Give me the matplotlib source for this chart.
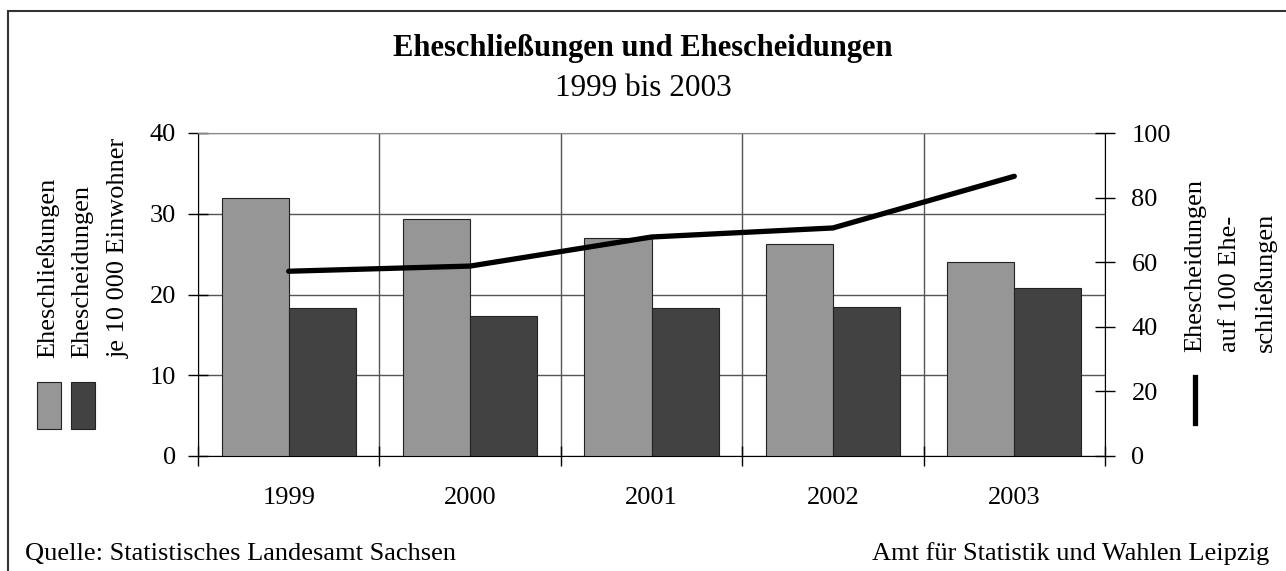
import numpy as np
import matplotlib.pyplot as plt
from matplotlib.patches import Rectangle
from matplotlib.lines import Line2D

plt.rcParams['font.family'] = ['Liberation Serif', 'DejaVu Serif']

# Daten
jahre = ['1999', '2000', '2001', '2002', '2003']
eheschliessungen = [32.0, 29.4, 27.0, 26.3, 24.0]     # je 10 000 Einwohner
ehescheidungen = [18.3, 17.3, 18.3, 18.5, 20.8]       # je 10 000 Einwohner
scheidungen_je_100 = [57.2, 58.8, 67.8, 70.6, 86.6]   # auf 100 Eheschliessungen

hell = '#969696'
dunkel = '#424242'
gitter = '#555555'

fig = plt.figure(figsize=(12.86, 5.71), dpi=100)
ax = fig.add_axes([198 / 1286, 115 / 571, 907 / 1286, 323 / 571])

x = np.arange(len(jahre))
breite = 0.37
ax.bar(x - breite / 2, eheschliessungen, breite, color=hell, edgecolor='#222222', linewidth=0.8, zorder=3)
ax.bar(x + breite / 2, ehescheidungen, breite, color=dunkel, edgecolor='#222222', linewidth=0.8, zorder=3)

ax.set_xlim(-0.5, len(jahre) - 0.5)
ax.set_ylim(0, 40)
ax.set_yticks([0, 10, 20, 30, 40])
ax.set_xticks(x)
ax.set_xticklabels(jahre)
ax.set_xticks(np.arange(-0.5, len(jahre)), minor=True)
ax.tick_params(axis='x', which='major', length=0, pad=22, labelsize=19)
ax.tick_params(axis='x', which='minor', direction='inout', length=14, width=1)
ax.tick_params(axis='y', direction='inout', length=14, width=1, labelsize=19, pad=9)
ax.grid(axis='y', color=gitter, linewidth=1, zorder=0)
ax.grid(axis='x', which='minor', color=gitter, linewidth=1, zorder=0)
ax.spines['top'].set_color('#888888')
ax.spines['left'].set_color('black')
ax.spines['bottom'].set_color('black')
ax.spines['right'].set_visible(False)

ax2 = ax.twinx()
ax2.plot(x, scheidungen_je_100, color='black', linewidth=3.8, solid_capstyle='round', solid_joinstyle='miter', zorder=5)
ax2.set_ylim(0, 100)
ax2.set_yticks([0, 20, 40, 60, 80, 100])
ax2.tick_params(axis='y', direction='inout', length=14, width=1, labelsize=19, pad=12)
for s in ['top', 'left', 'bottom']:
    ax2.spines[s].set_visible(False)
ax2.spines['right'].set_color('black')

# Titel
fig.text(0.5, 1 - 56 / 571, 'Eheschließungen und Ehescheidungen', ha='center', va='baseline',
         fontsize=22, fontweight='bold')
fig.text(0.5, 1 - 96 / 571, '1999 bis 2003', ha='center', va='baseline', fontsize=22.5)

# Legende links
for xp, txt in [(48, 'Eheschließungen'), (82, 'Ehescheidungen'), (119, 'je 10 000 Einwohner')]:
    fig.text(xp / 1286, 1 - 358 / 571, txt, rotation=90, ha='center', va='bottom', fontsize=19)
for xp, farbe in [(37, hell), (71, dunkel)]:
    fig.patches.append(Rectangle((xp / 1286, 1 - 429 / 571), 24 / 1286, 47 / 571,
                                 facecolor=farbe, edgecolor='#222222', linewidth=0.8,
                                 transform=fig.transFigure))

# Legende rechts
for xp, txt in [(1195, 'Ehescheidungen'), (1230, 'auf 100 Ehe-'), (1265, 'schließungen')]:
    fig.text(xp / 1286, 1 - 352 / 571, txt, rotation=90, ha='center', va='bottom', fontsize=19)
fig.lines.append(Line2D([1195 / 1286, 1195 / 1286], [1 - 377 / 571, 1 - 423 / 571],
                        color='black', linewidth=3.8, transform=fig.transFigure))

# Quellen
fig.text(25 / 1286, 1 - 560 / 571, 'Quelle: Statistisches Landesamt Sachsen', ha='left', va='baseline', fontsize=19)
fig.text(1269 / 1286, 1 - 560 / 571, 'Amt für Statistik und Wahlen Leipzig', ha='right', va='baseline', fontsize=19)

# Rahmen
fig.patches.append(Rectangle((8 / 1286, -0.1), 1.2, 1 - 11 / 571 + 0.1, facecolor='none',
                             edgecolor='#333333', linewidth=1.5, transform=fig.transFigure))

fig.savefig('out.png', dpi=100)
